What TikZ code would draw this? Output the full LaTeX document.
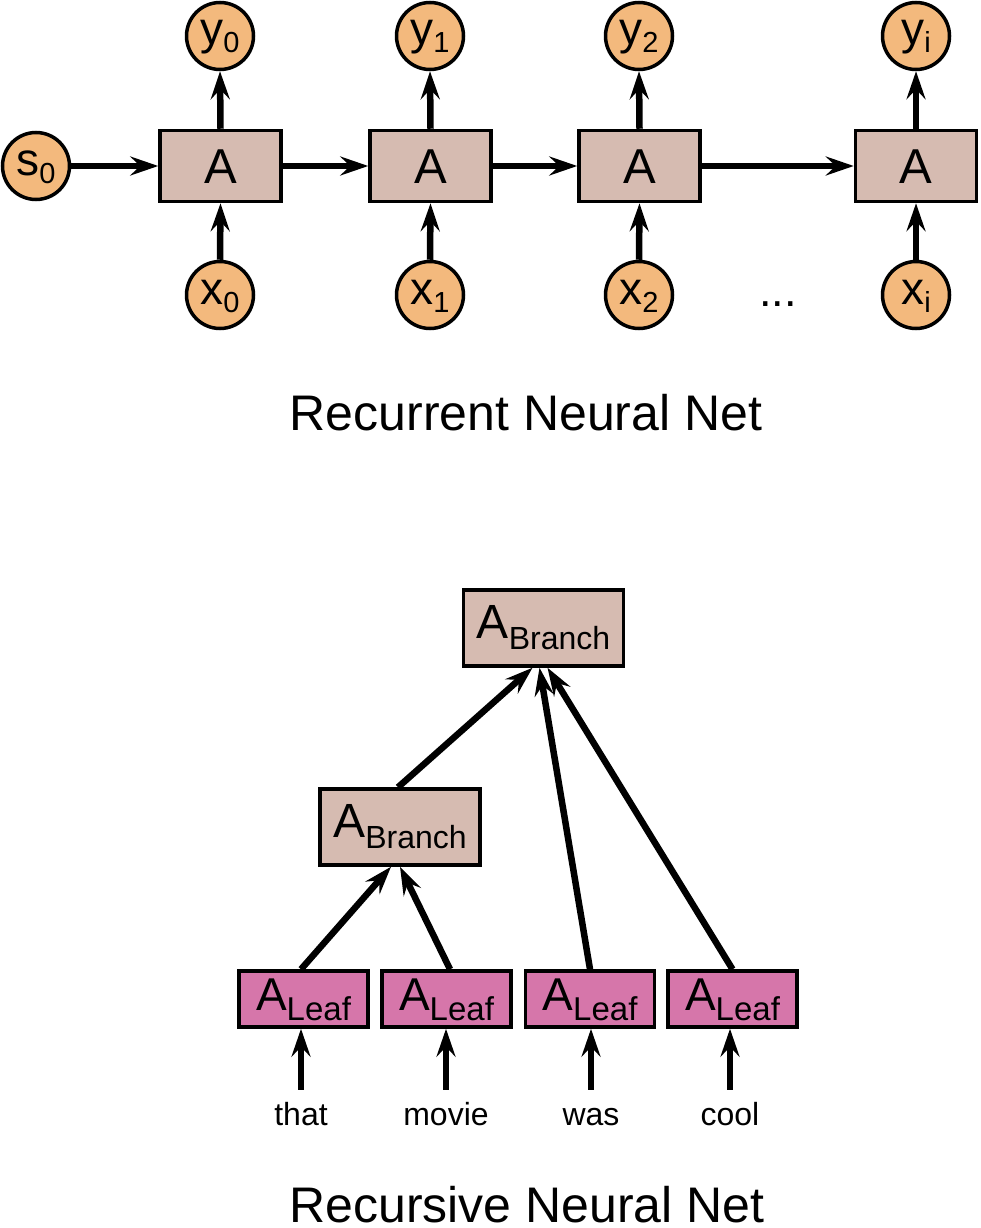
\documentclass[tikz,border=0pt]{standalone}
\usepackage{fontspec}
\setmainfont{Liberation Sans}
\usetikzlibrary{arrows.meta,calc}
\definecolor{circfill}{RGB}{243,185,125}
\definecolor{boxfill}{RGB}{214,187,177}
\definecolor{leaffill}{RGB}{214,118,170}
\newcommand\circlabel[2]{{\fontsize{46}{50}\selectfont #1}\raisebox{-8pt}{\fontsize{29}{30}\selectfont #2}}
\newcommand\branchlabel{{\fontsize{48}{50}\selectfont A}\raisebox{-11pt}{\fontsize{32}{34}\selectfont Branch}}
\newcommand\leaflabel{{\fontsize{46}{50}\selectfont A}\raisebox{-10pt}{\fontsize{33}{34}\selectfont Leaf}}
\begin{document}
\begin{tikzpicture}[x=1pt,y=-1pt,
  var/.style={circle, draw, line width=3.5pt, fill=circfill, minimum size=67pt, inner sep=0pt, text height=30pt, text depth=12pt},
  cell/.style={rectangle, draw, line width=3.5pt, fill=boxfill, minimum width=121pt, minimum height=71pt, inner sep=0pt, text height=35pt, text depth=0pt, font=\fontsize{49}{50}\selectfont},
  branchbox/.style={rectangle, draw, line width=3.5pt, fill=boxfill, minimum width=160pt, minimum height=76pt, inner sep=0pt, text height=34pt, text depth=14pt},
  leafbox/.style={rectangle, draw, line width=3.5pt, fill=leaffill, minimum width=129pt, minimum height=56pt, inner sep=0pt, text height=32pt, text depth=10pt},
  word/.style={anchor=base, font=\fontsize{32}{34}\selectfont, text height=24pt, text depth=0pt, inner xsep=0pt, inner ysep=11pt},
  title/.style={anchor=base, inner sep=0pt, text depth=0pt, font=\fontsize{50}{55}\selectfont},
  conn/.style={line width=6.5pt, -{Stealth[length=28pt,width=19pt,inset=10pt]}}
]
\useasboundingbox (0,0) rectangle (980,1228);

% ---------- Recurrent net ----------
\node[var] (s0) at (36,166) {\circlabel{s}{0}};
\node[cell] (a0) at (220.5,166) {A};
\node[cell] (a1) at (430.5,166) {A};
\node[cell] (a2) at (639.5,166) {A};
\node[cell] (ai) at (916,166) {A};

\node[var] (y0) at (220,36) {\circlabel{y}{0}};
\node[var] (y1) at (430,36) {\circlabel{y}{1}};
\node[var] (y2) at (639,36) {\circlabel{y}{2}};
\node[var] (yi) at (916,36) {\circlabel{y}{i}};

\node[var] (x0) at (220,295) {\circlabel{x}{0}};
\node[var] (x1) at (430,295) {\circlabel{x}{1}};
\node[var] (x2) at (639,295) {\circlabel{x}{2}};
\node[var] (xi) at (916,295) {\circlabel{x}{i}};

\node[anchor=base, font=\fontsize{45}{50}\selectfont, inner sep=0pt] (dots) at (778,306) {...};

\draw[conn] (s0) -- (a0);
\draw[conn] (a0) -- (a1);
\draw[conn] (a1) -- (a2);
\draw[conn] (a2) -- (ai);
\foreach \n in {0,1,2,i}{
  \draw[conn] (a\n.north) -- (y\n.south);
  \draw[conn] (x\n.north) -- (a\n.south);
}

\node[title] (t1) at (526,430) {Recurrent Neural Net};

% ---------- Recursive net ----------
\node[branchbox] (br1) at (543.5,628) {\branchlabel};
\node[branchbox] (br2) at (400,827) {\branchlabel};

\node[leafbox] (l1) at (303.5,999) {\leaflabel};
\node[leafbox] (l2) at (446.5,999) {\leaflabel};
\node[leafbox] (l3) at (590,999) {\leaflabel};
\node[leafbox] (l4) at (732.5,999) {\leaflabel};

\node[word] (w1) at (301,1125) {that};
\node[word] (w2) at (446,1125) {movie};
\node[word] (w3) at (591,1125) {was};
\node[word] (w4) at (730,1125) {cool};

\foreach \n in {1,2,3,4}{
  \draw[conn] (w\n.north) -- (w\n.north |- l\n.south);
}

\draw[conn] ([xshift=-2.5pt]l1.north) -- ([xshift=-9pt]br2.south);
\draw[conn] ([xshift=3.5pt]l2.north) -- ([xshift=0pt]br2.south);
\draw[conn] ([xshift=-2pt]br2.north) -- ([xshift=-11pt]br1.south);
\draw[conn] (l3.north) -- ([xshift=-4pt]br1.south);
\draw[conn] (l4.north) -- ([xshift=4pt]br1.south);

\node[title] (t2) at (527,1222) {Recursive Neural Net};
\end{tikzpicture}
\end{document}
